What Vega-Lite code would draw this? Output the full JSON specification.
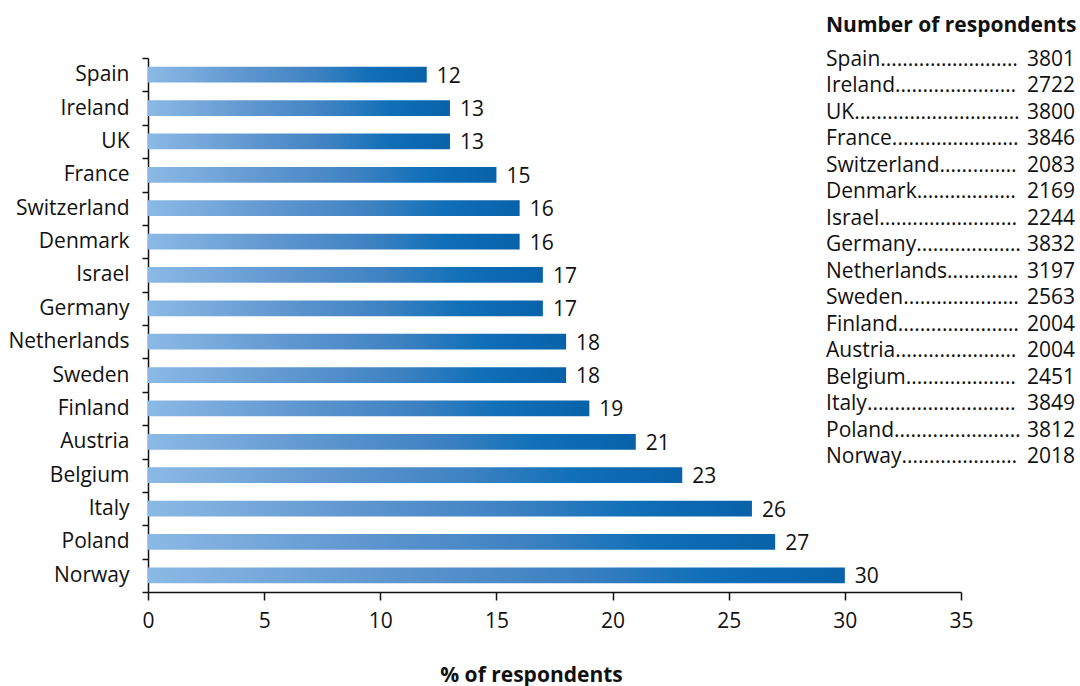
{
  "$schema": "https://vega.github.io/schema/vega-lite/v6.json",
  "width": 813,
  "height": 534,
  "autosize": {"type": "none"},
  "padding": {"left": 148, "top": 58, "right": 119, "bottom": 94},
  "background": "white",
  "config": {"view": {"stroke": null}, "font": "Open Sans", "text": {"font": "Open Sans", "color": "#111111"}},
  "data": {
    "values": [
      {"country": "Spain", "pct": 12, "n": 3801},
      {"country": "Ireland", "pct": 13, "n": 2722},
      {"country": "UK", "pct": 13, "n": 3800},
      {"country": "France", "pct": 15, "n": 3846},
      {"country": "Switzerland", "pct": 16, "n": 2083},
      {"country": "Denmark", "pct": 16, "n": 2169},
      {"country": "Israel", "pct": 17, "n": 2244},
      {"country": "Germany", "pct": 17, "n": 3832},
      {"country": "Netherlands", "pct": 18, "n": 3197},
      {"country": "Sweden", "pct": 18, "n": 2563},
      {"country": "Finland", "pct": 19, "n": 2004},
      {"country": "Austria", "pct": 21, "n": 2004},
      {"country": "Belgium", "pct": 23, "n": 2451},
      {"country": "Italy", "pct": 26, "n": 3849},
      {"country": "Poland", "pct": 27, "n": 3812},
      {"country": "Norway", "pct": 30, "n": 2018}
    ]
  },
  "resolve": {"scale": {"y": "independent"}, "axis": {"y": "independent"}},
  "layer": [
    {
      "mark": {
        "type": "bar",
        "height": {"band": 0.47},
        "color": {
          "gradient": "linear", "x1": 0, "x2": 1, "y1": 0, "y2": 0,
          "stops": [
            {"offset": 0, "color": "#8cb9e5"},
            {"offset": 0.35, "color": "#5e96cf"},
            {"offset": 0.6, "color": "#3e82c2"},
            {"offset": 0.8, "color": "#106fb7"},
            {"offset": 1, "color": "#0862aa"}
          ]
        }
      },
      "encoding": {
        "y": {
          "field": "country", "type": "nominal", "sort": null,
          "scale": {"paddingInner": 0, "paddingOuter": 0},
          "axis": {
            "title": null, "labelFontSize": 21, "labelColor": "#111111", "labelFont": "Open Sans",
            "tickSize": 6, "labelPadding": 13, "domainColor": "#111111", "tickColor": "#111111",
            "domainWidth": 1.5, "tickWidth": 1.5, "tickBand": "extent", "grid": false
          }
        },
        "x": {
          "field": "pct", "type": "quantitative",
          "scale": {"domain": [0, 35], "nice": false},
          "axis": {
            "values": [0, 5, 10, 15, 20, 25, 30, 35], "grid": false, "labelFlush": false,
            "tickSize": 8, "labelPadding": 10, "labelFontSize": 21, "labelColor": "#111111", "labelFont": "Open Sans",
            "domainColor": "#111111", "tickColor": "#111111", "domainWidth": 1.5, "tickWidth": 1.5,
            "title": "% of respondents", "titleFontSize": 21, "titleFontWeight": "bold", "titleColor": "#111111",
            "titleFont": "Open Sans", "titleX": 383, "titleY": 89, "titleBaseline": "alphabetic", "titleAlign": "center", "titleAnchor": null
          }
        }
      }
    },
    {
      "mark": {"type": "text", "align": "left", "baseline": "middle", "dx": 10, "dy": 2, "fontSize": 21},
      "encoding": {
        "y": {"field": "country", "type": "nominal", "sort": null, "scale": {"paddingInner": 0, "paddingOuter": 0}, "axis": null},
        "x": {"field": "pct", "type": "quantitative"},
        "text": {"field": "pct", "type": "quantitative"}
      }
    },
    {
      "transform": [{"calculate": "datum.country + '..................................................'", "as": "leader"}],
      "mark": {"type": "text", "align": "left", "baseline": "alphabetic", "fontSize": 21, "limit": 195, "ellipsis": ""},
      "encoding": {
        "y": {"field": "country", "type": "nominal", "sort": null,
          "scale": {"type": "point", "domain": ["Number of respondents", "Spain", "Ireland", "UK", "France", "Switzerland", "Denmark", "Israel", "Germany", "Netherlands", "Sweden", "Finland", "Austria", "Belgium", "Italy", "Poland", "Norway"], "range": [-18.9, 405.3], "padding": 0},
          "axis": null},
        "x": {"datum": 29.19, "type": "quantitative"},
        "text": {"field": "leader", "type": "nominal"}
      }
    },
    {
      "mark": {"type": "text", "align": "right", "baseline": "alphabetic", "fontSize": 21},
      "encoding": {
        "y": {"field": "country", "type": "nominal", "sort": null,
          "scale": {"type": "point", "domain": ["Number of respondents", "Spain", "Ireland", "UK", "France", "Switzerland", "Denmark", "Israel", "Germany", "Netherlands", "Sweden", "Finland", "Austria", "Belgium", "Italy", "Poland", "Norway"], "range": [-18.9, 405.3], "padding": 0},
          "axis": null},
        "x": {"datum": 39.91, "type": "quantitative"},
        "text": {"field": "n", "type": "nominal"}
      }
    },
    {
      "data": {"values": [{"heading": "Number of respondents"}]},
      "mark": {"type": "text", "align": "left", "baseline": "alphabetic", "fontSize": 21, "fontWeight": "bold", "dy": -7.5},
      "encoding": {
        "y": {"field": "heading", "type": "nominal",
          "scale": {"type": "point", "domain": ["Number of respondents", "Spain", "Ireland", "UK", "France", "Switzerland", "Denmark", "Israel", "Germany", "Netherlands", "Sweden", "Finland", "Austria", "Belgium", "Italy", "Poland", "Norway"], "range": [-18.9, 405.3], "padding": 0},
          "axis": null},
        "x": {"datum": 29.19, "type": "quantitative"},
        "text": {"field": "heading", "type": "nominal"}
      }
    }
  ]
}
